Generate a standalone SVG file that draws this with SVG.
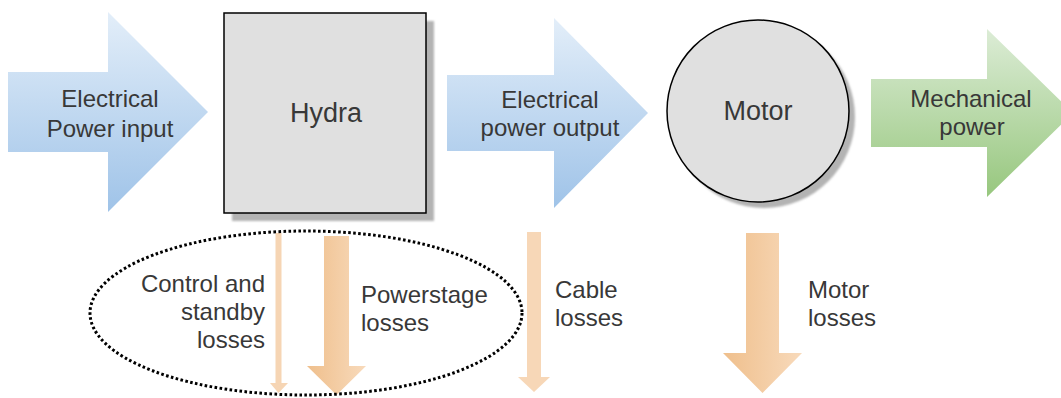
<svg xmlns="http://www.w3.org/2000/svg" width="1061" height="398" viewBox="0 0 1061 398">
  <style>
    .lbl { font-family: "Liberation Sans", Arial, sans-serif; font-size: 24px; fill: #383838; }
    .big { font-family: "Liberation Sans", Arial, sans-serif; font-size: 27px; fill: #383838; }
    .mid { text-anchor: middle; }
    .end { text-anchor: end; }
    .shadow { fill: #b3b3b3; }
    .node { fill: #e0e0e0; stroke: #000000; stroke-width: 1.5; }
  </style>
  <defs>
    <linearGradient id="gBlue" x1="0" y1="0" x2="0" y2="1">
      <stop offset="0" stop-color="#e3eef9"/>
      <stop offset="1" stop-color="#9fc3e8"/>
    </linearGradient>
    <linearGradient id="gGreen" x1="0" y1="0" x2="0" y2="1">
      <stop offset="0" stop-color="#dcecd6"/>
      <stop offset="1" stop-color="#97c77e"/>
    </linearGradient>
    <linearGradient id="gOrange" x1="0" y1="0" x2="1" y2="0">
      <stop offset="0" stop-color="#efbf8c"/>
      <stop offset="1" stop-color="#f8dabb"/>
    </linearGradient>
    <filter id="blur" x="-10%" y="-10%" width="120%" height="120%">
      <feGaussianBlur stdDeviation="1.2"/>
    </filter>
  </defs>

  <g id="connectors">
    <g id="arrow-input">
      <path d="M8,72 L108,72 L108,12 L208,112 L108,212 L108,152 L8,152 Z" fill="url(#gBlue)"/>
      <text class="lbl mid" x="110" y="107">Electrical</text>
      <text class="lbl mid" x="110" y="137">Power input</text>
    </g>
    <g id="arrow-output">
      <path d="M447,75 L554,75 L554,18 L648,113 L554,208 L554,151 L447,151 Z" fill="url(#gBlue)"/>
      <text class="lbl mid" x="550" y="108">Electrical</text>
      <text class="lbl mid" x="550" y="136">power output</text>
    </g>
    <g id="arrow-mechanical">
      <path d="M871,79 L987,79 L987,29 L1073,113 L987,197 L987,147 L871,147 Z" fill="url(#gGreen)"/>
      <text class="lbl mid" x="971" y="107">Mechanical</text>
      <text class="lbl mid" x="972" y="135">power</text>
    </g>
    <g id="arrow-control-losses">
      <path d="M275.5,233 L281.5,233 L281.5,383 L288,383 L278.5,393 L270,383 L275.5,383 Z" fill="#f6d5b4"/>
      <text class="lbl end" x="265" y="292">Control and</text>
      <text class="lbl end" x="265" y="320">standby</text>
      <text class="lbl end" x="265" y="348">losses</text>
    </g>
    <g id="arrow-powerstage-losses">
      <path d="M324,236 L349,236 L349,366 L366,366 L336.5,395 L307,366 L324,366 Z" fill="url(#gOrange)"/>
      <text class="lbl" x="361" y="303">Powerstage</text>
      <text class="lbl" x="361" y="331">losses</text>
    </g>
    <g id="arrow-cable-losses">
      <path d="M527,232 L541,232 L541,377 L550,377 L534,392 L518,377 L527,377 Z" fill="#f7d7b7"/>
      <text class="lbl" x="555" y="298">Cable</text>
      <text class="lbl" x="555" y="326">losses</text>
    </g>
    <g id="arrow-motor-losses">
      <path d="M746,233 L779,233 L779,353 L802,353 L762.5,393 L723,353 L746,353 Z" fill="url(#gOrange)"/>
      <text class="lbl" x="808" y="298">Motor</text>
      <text class="lbl" x="808" y="326">losses</text>
    </g>
  </g>

  <g id="node-hydra">
    <rect class="shadow" x="232" y="21" width="202" height="200" filter="url(#blur)"/>
    <rect class="node" x="224" y="13" width="202" height="200"/>
    <text class="big mid" x="326" y="122">Hydra</text>
  </g>

  <g id="node-motor">
    <circle class="shadow" cx="764" cy="117" r="91" filter="url(#blur)"/>
    <circle class="node" cx="758" cy="111" r="91"/>
    <text class="big mid" x="758" y="120">Motor</text>
  </g>

  <g id="group-hydra-losses">
    <ellipse cx="306" cy="313" rx="216" ry="82" fill="none" stroke="#000000" stroke-width="3" stroke-dasharray="2.6 2.4"/>
  </g>
</svg>
